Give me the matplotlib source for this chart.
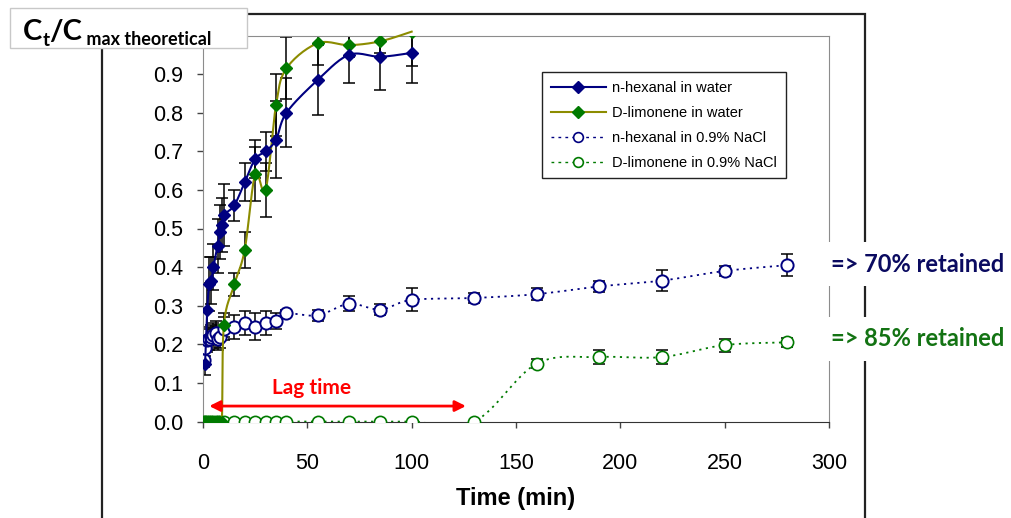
import numpy as np
import matplotlib.pyplot as plt
from matplotlib.lines import Line2D
from matplotlib.patches import Rectangle

plt.rcParams['font.family'] = ['Liberation Sans', 'DejaVu Sans']

# n-hexanal in water
hex_w_t = [1, 2, 3, 4, 5, 7, 8, 9, 10, 15, 20, 25, 30, 35, 40, 55, 70, 85, 100]
hex_w_v = [0.15, 0.29, 0.355, 0.365, 0.40, 0.455, 0.49, 0.51, 0.535, 0.56, 0.62,
           0.68, 0.70, 0.73, 0.80, 0.885, 0.95, 0.945, 0.955]
hex_w_e = [0.03, 0.07, 0.07, 0.06, 0.06, 0.07, 0.07, 0.07, 0.08, 0.04, 0.05,
           0.05, 0.05, 0.10, 0.09, 0.09, 0.073, 0.085, 0.077]

# D-limonene in water
lim_w_t = [1, 2, 3, 4, 5, 6, 7, 9, 10, 15, 20, 25, 30, 35, 40, 55, 70, 85, 100]
lim_w_v = [0, 0, 0, 0, 0, 0, 0, 0, 0.25, 0.355, 0.445, 0.64, 0.60, 0.82, 0.915,
           0.98, 0.975, 0.985, 1.01]
lim_w_e = [0, 0, 0, 0, 0, 0, 0, 0, 0.03, 0.03, 0.047, 0.07, 0.07, 0.08, 0.08,
           0.057, 0.03, 0.03, 0.088]

# n-hexanal in 0.9% NaCl
hex_s_t = [0.5, 1, 2, 3, 4, 5, 6, 7, 8, 10, 15, 20, 25, 30, 35, 40, 55, 70, 85,
           100, 130, 160, 190, 220, 250, 280]
hex_s_v = [0.16, 0.19, 0.21, 0.215, 0.22, 0.225, 0.23, 0.215, 0.22, 0.24, 0.245,
           0.255, 0.245, 0.255, 0.26, 0.28, 0.275, 0.305, 0.29, 0.315, 0.32,
           0.33, 0.35, 0.365, 0.39, 0.405]
hex_s_e = [0.02, 0.02, 0.03, 0.03, 0.03, 0.03, 0.03, 0.03, 0.03, 0.03, 0.03,
           0.03, 0.035, 0.03, 0.02, 0.01, 0.015, 0.02, 0.015, 0.03, 0.012,
           0.015, 0.015, 0.028, 0.012, 0.028]

# D-limonene in 0.9% NaCl
lim_s_t = [0.5, 1, 2, 3, 4, 5, 6, 7, 8, 10, 15, 20, 25, 30, 35, 40, 55, 70, 85,
           100, 130, 160, 190, 220, 250, 280]
lim_s_v = [0] * 21 + [0.15, 0.167, 0.167, 0.198, 0.205]
lim_s_e = [0] * 21 + [0.012, 0.017, 0.017, 0.017, 0.012]

navy = '#000080'
green = '#007a00'
olive = '#8c8c00'

W, H = 1012, 518


def smooth(x, y, n=16):
    # Catmull-Rom curve through the points, like Excel's smoothed line
    p = np.column_stack([x, y]).astype(float)
    p = np.vstack([p[0], p, p[-1]])
    out = []
    s = np.linspace(0, 1, n, endpoint=False)[:, None]
    for i in range(1, len(p) - 2):
        p0, p1, p2, p3 = p[i - 1], p[i], p[i + 1], p[i + 2]
        out.append(0.5 * (2 * p1 + (p2 - p0) * s
                          + (2 * p0 - 5 * p1 + 4 * p2 - p3) * s ** 2
                          + (3 * p1 - p0 - 3 * p2 + p3) * s ** 3))
    out.append(p[-2:-1])
    out = np.vstack(out)
    return out[:, 0], out[:, 1]


fig = plt.figure(figsize=(W / 100, H / 100), dpi=100)
ax = fig.add_axes([203 / W, 1 - 421.5 / H, 626 / W, 386 / H])

# outer chart frame
fig.patches.append(Rectangle((102 / W, -0.1), (865 - 102) / W, 1.1 - 14 / H,
                             transform=fig.transFigure, fill=False,
                             edgecolor='#222222', lw=1.6, zorder=-1))

ebkw = dict(fmt='none', ecolor='black', elinewidth=1.1, capsize=4, capthick=1.1,
            zorder=2)

ax.errorbar(hex_s_t, hex_s_v, yerr=hex_s_e, **ebkw)
ax.errorbar(lim_s_t, lim_s_v, yerr=lim_s_e, **ebkw)
ax.errorbar(hex_w_t, hex_w_v, yerr=hex_w_e, **ebkw)
ax.errorbar(lim_w_t, lim_w_v, yerr=lim_w_e, **ebkw)

dot = (0, (1.2, 2.5))
ax.plot(*smooth(lim_s_t, lim_s_v), color=green, lw=1.3, ls=dot, zorder=3)
ax.plot(lim_s_t, lim_s_v, ls='none', marker='o', ms=8.8, mfc='white', mec=green,
        mew=1.2, zorder=4)
ax.plot(*smooth(hex_s_t, hex_s_v), color=navy, lw=1.3, ls=dot, zorder=3)
ax.plot(hex_s_t, hex_s_v, ls='none', marker='o', ms=8.8, mfc='white', mec=navy,
        mew=1.4, zorder=4)
lw_line, = ax.plot(*smooth(lim_w_t, lim_w_v), color=olive, lw=1.5, zorder=5)
lw_line.set_clip_path(Rectangle((0, 0), 1, 1.05, transform=ax.transAxes))
ax.plot(lim_w_t, lim_w_v, ls='none', marker='D', ms=6.5, color=green, zorder=6)
ax.plot(*smooth(hex_w_t, hex_w_v), color=navy, lw=1.5, zorder=5)
ax.plot(hex_w_t, hex_w_v, ls='none', marker='D', ms=6.5, color=navy, zorder=6)

ax.set_xlim(0, 300)
ax.set_ylim(0, 1)
ax.set_xticks(range(0, 301, 50))
ax.set_yticks(np.arange(0, 0.91, 0.1))
ax.set_yticklabels(['%.1f' % v for v in np.arange(0, 0.91, 0.1)])
ax.tick_params(direction='out', length=4, width=1, color='#444444',
               labelsize=15.5)
ax.tick_params(axis='x', pad=19)
ax.tick_params(axis='y', pad=10)
for side in ['top', 'right', 'left']:
    ax.spines[side].set_color('#8c8c8c')
ax.spines['bottom'].set_color('#333333')
ax.set_xlabel('Time (min)', fontsize=17, fontweight='bold', labelpad=9)

# lag time arrow
ax.annotate('', xy=(3, 0.04), xytext=(126, 0.04),
            arrowprops=dict(arrowstyle='<|-|>', color='red', lw=2,
                            mutation_scale=16, shrinkA=0, shrinkB=0), zorder=7)
ax.text(52, 0.088, 'Lag time', color='red', fontsize=15, fontweight='bold',
        family='Lato', ha='center', va='center', zorder=7)

handles = [
    Line2D([], [], color=navy, lw=1.5, marker='D', ms=6, mfc=navy, mec=navy),
    Line2D([], [], color=olive, lw=1.5, marker='D', ms=6, mfc=green, mec=green),
    Line2D([], [], color=navy, lw=1, ls=(0, (2, 3)), marker='o', ms=7,
           mfc='white', mec=navy, mew=1.2),
    Line2D([], [], color=green, lw=1, ls=(0, (2, 3)), marker='o', ms=7,
           mfc='white', mec=green, mew=1.2),
]
labels = ['n-hexanal in water', 'D-limonene in water', 'n-hexanal in 0.9% NaCl',
          'D-limonene in 0.9% NaCl']
leg = ax.legend(handles, labels, loc='upper left', bbox_to_anchor=(0.5415, 0.905),
                borderaxespad=0, fontsize=10.5, handlelength=3.8,
                handletextpad=0.4, labelspacing=0.75, borderpad=0.6,
                fancybox=False, framealpha=1)
leg.get_frame().set_edgecolor('#222222')
leg.get_frame().set_linewidth(1)

# retained annotations on the right
bb = dict(boxstyle='square,pad=0.45', facecolor='white', edgecolor='none')
fig.text(831 / W, 1 - 264 / H, '=> 70% retained', color='#0a0a60', fontsize=17,
         fontweight='bold', family='Lato', va='center', ha='left', bbox=bb,
         zorder=10)
fig.text(831 / W, 1 - 339 / H, '=> 85% retained', color='#137313', fontsize=17,
         fontweight='bold', family='Lato', va='center', ha='left', bbox=bb,
         zorder=10)

# y-axis title box
fig.patches.append(Rectangle((10 / W, 1 - 48 / H), 237 / W, 40 / H,
                             transform=fig.transFigure, facecolor='white',
                             edgecolor='#c8c8c8', lw=1, zorder=8))
r = fig.canvas.get_renderer()
x = 23
for s, size, base in [('C', 21, 40), ('t', 13.5, 46), ('/C', 21, 40),
                      (' max theoretical', 13, 45)]:
    t = fig.text(x / W, 1 - base / H, s, fontsize=size, fontweight='bold',
                 family='Lato', va='baseline', ha='left', zorder=9)
    x = t.get_window_extent(r).x1

fig.savefig('out.png', dpi=100)
